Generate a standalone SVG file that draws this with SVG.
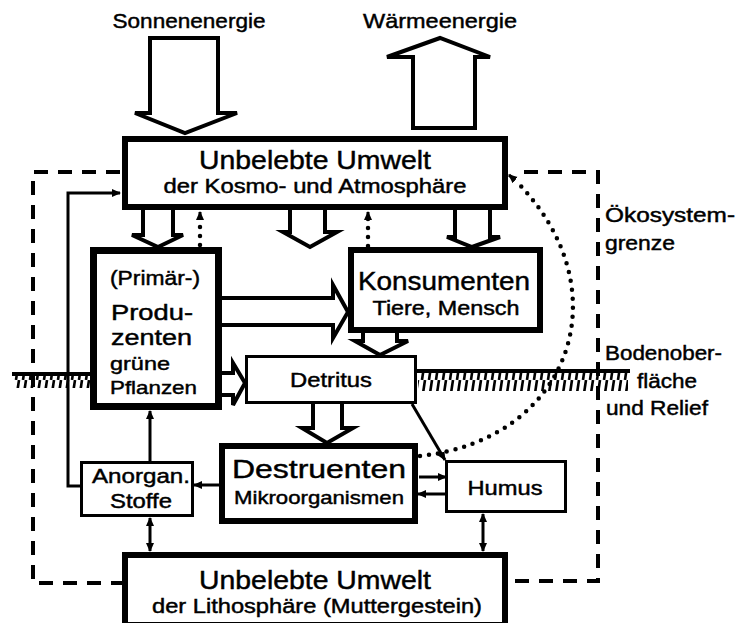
<svg xmlns="http://www.w3.org/2000/svg" width="743" height="623" viewBox="0 0 743 623">
<style>
text{font-family:"Liberation Sans",Arial,sans-serif;fill:#000;stroke:#000;stroke-width:0.45}
.c{text-anchor:middle}
.thick{fill:#fff;stroke:#000;stroke-width:6}
.thin{fill:#fff;stroke:#000;stroke-width:3}
.hollow{fill:#fff;stroke:#000;stroke-width:4;stroke-linejoin:miter}
.con{fill:none;stroke:#000;stroke-width:3}
.dot{fill:none;stroke:#000;stroke-width:4.5;stroke-linecap:round;stroke-dasharray:0 9}
.dash{fill:none;stroke:#000;stroke-width:4;stroke-dasharray:14 10}
.ground{fill:none;stroke:#000;stroke-width:4}
</style>
<defs>
<marker id="ah" markerUnits="userSpaceOnUse" markerWidth="10" markerHeight="10" refX="8" refY="5" orient="auto-start-reverse" viewBox="0 0 10 10">
<path d="M0,1 L9,5 L0,9 z" fill="#000"/>
</marker>
<pattern id="hp" patternUnits="userSpaceOnUse" width="7" height="20">
<line x1="5" y1="0" x2="2" y2="20" stroke="#000" stroke-width="2.6"/>
</pattern>
</defs>

<!-- ground surface -->
<g id="ground">
<line class="ground" x1="12" y1="374" x2="92" y2="374"/>
<rect x="14" y="375" width="76" height="13" fill="url(#hp)"/>
<line class="ground" x1="416" y1="371" x2="630" y2="371"/>
<rect x="418" y="372" width="210" height="19" fill="url(#hp)"/>
</g>

<!-- ecosystem boundary -->
<g id="boundary">
<path class="dash" d="M120,172 H33 V583 H122"/>
<path class="dash" d="M524,172 H598 V581 H508"/>
</g>

<!-- energy arrows -->
<g id="sonne">
<polygon class="hollow" points="150,38 218,38 218,113 237,113 185,133 135,113 150,113"/>
<text x="189" y="28" text-anchor="middle" textLength="153" lengthAdjust="spacingAndGlyphs" style="font-size:21px">Sonnenenergie</text>
</g>
<g id="waerme">
<polygon class="hollow" points="413,128 413,57 387,57 440,38 490,57 475,57 475,128"/>
<text x="440" y="28" text-anchor="middle" textLength="154" lengthAdjust="spacingAndGlyphs" style="font-size:21px">Wärmeenergie</text>
</g>

<!-- connectors -->
<g id="connectors">
<polyline class="hollow" points="143,210 143,235 132,235 158,247 183,235 173,235 173,210"/>
<polyline class="hollow" points="290,210 290,232 283,232 310,247 337,232 325,232 325,210"/>
<polyline class="hollow" points="455,210 455,237 447,237 472,247 500,237 490,237 490,210"/>
<polyline class="hollow" points="363,333 363,341 355,341 380,355 408,341 397,341 397,333"/>
<polyline class="hollow" points="313,403 313,428 302,428 327,443 353,428 342,428 342,403"/>
<polyline class="hollow" points="222,298 333,298 333,285 348,312 333,338 333,325 222,325"/>
<polyline class="hollow" points="222,373 233,373 233,363 245,383 233,405 233,395 222,395"/>
<path class="con" d="M81,486 H68 V193 H120" marker-end="url(#ah)"/>
<path class="con" d="M150,462 V411" marker-end="url(#ah)"/>
<path class="con" d="M219,485 H194" marker-end="url(#ah)"/>
<path class="con" d="M419,477 H446" marker-end="url(#ah)"/>
<path class="con" d="M446,494 H418" marker-end="url(#ah)"/>
<path class="con" d="M412,404 L445,460" marker-end="url(#ah)"/>
<path class="con" d="M150,518 V551" marker-start="url(#ah)" marker-end="url(#ah)"/>
<path class="con" d="M483,514 V551" marker-start="url(#ah)" marker-end="url(#ah)"/>
<path class="dot" d="M200,245 V218"/>
<path class="con" d="M200,220 V212" marker-end="url(#ah)"/>
<path class="dot" d="M368,246 V218"/>
<path class="con" d="M368,220 V212" marker-end="url(#ah)"/>
<path class="dot" d="M420,456 C570,440 625,290 515,180"/>
<path class="con" d="M515,180 L509,175" marker-end="url(#ah)"/>
</g>

<!-- nodes -->
<g id="kosmo">
<rect class="thick" x="125" y="139" width="380" height="68"/>
<text class="c" x="315" y="169" textLength="232" lengthAdjust="spacingAndGlyphs" style="font-size:26px">Unbelebte Umwelt</text>
<text class="c" x="315" y="193" textLength="303" lengthAdjust="spacingAndGlyphs" style="font-size:20px">der Kosmo- und Atmosphäre</text>
</g>
<g id="produzenten">
<rect x="93.5" y="250.5" width="125" height="156" fill="#fff" stroke="#000" stroke-width="7"/>
<text x="110" y="285" textLength="90" lengthAdjust="spacingAndGlyphs" style="font-size:20px">(Primär-)</text>
<text x="111" y="320" textLength="82" lengthAdjust="spacingAndGlyphs" style="font-size:22px">Produ-</text>
<text x="111" y="345" textLength="81" lengthAdjust="spacingAndGlyphs" style="font-size:22px">zenten</text>
<text x="110" y="370" textLength="60" lengthAdjust="spacingAndGlyphs" style="font-size:19px">grüne</text>
<text x="110" y="394" textLength="87" lengthAdjust="spacingAndGlyphs" style="font-size:19px">Pflanzen</text>
</g>
<g id="konsumenten">
<rect class="thick" x="351" y="250" width="189" height="80"/>
<text class="c" x="444" y="290" textLength="172" lengthAdjust="spacingAndGlyphs" style="font-size:26px">Konsumenten</text>
<text class="c" x="446" y="315" textLength="147" lengthAdjust="spacingAndGlyphs" style="font-size:20px">Tiere, Mensch</text>
</g>
<g id="detritus">
<rect class="thin" x="246.5" y="356.5" width="169" height="46"/>
<text class="c" x="331" y="387" textLength="82" lengthAdjust="spacingAndGlyphs" style="font-size:20px">Detritus</text>
</g>
<g id="destruenten">
<rect class="thick" x="222" y="446" width="193" height="75"/>
<text class="c" x="319" y="478" textLength="174" lengthAdjust="spacingAndGlyphs" style="font-size:26px">Destruenten</text>
<text class="c" x="319" y="504" textLength="170" lengthAdjust="spacingAndGlyphs" style="font-size:19px">Mikroorganismen</text>
</g>
<g id="humus">
<rect class="thin" x="446.5" y="461.5" width="119" height="50"/>
<text class="c" x="505" y="495" textLength="75" lengthAdjust="spacingAndGlyphs" style="font-size:20px">Humus</text>
</g>
<g id="anorgan">
<rect class="thin" x="81.5" y="462.5" width="111" height="53"/>
<text class="c" x="141" y="483" textLength="98" lengthAdjust="spacingAndGlyphs" style="font-size:20px">Anorgan.</text>
<text class="c" x="141" y="508" textLength="62" lengthAdjust="spacingAndGlyphs" style="font-size:20px">Stoffe</text>
</g>
<g id="litho">
<rect class="thick" x="125" y="555" width="380" height="70"/>
<text class="c" x="315" y="589" textLength="232" lengthAdjust="spacingAndGlyphs" style="font-size:26px">Unbelebte Umwelt</text>
<text class="c" x="317" y="613" textLength="330" lengthAdjust="spacingAndGlyphs" style="font-size:20px">der Lithosphäre (Muttergestein)</text>
</g>

<!-- side labels -->
<g id="labels">
<text x="605" y="222" textLength="130" lengthAdjust="spacingAndGlyphs" style="font-size:20px">Ökosystem-</text>
<text x="605" y="250" textLength="70" lengthAdjust="spacingAndGlyphs" style="font-size:20px">grenze</text>
<text x="605" y="360" textLength="117" lengthAdjust="spacingAndGlyphs" style="font-size:20px">Bodenober-</text>
<text x="637" y="388" textLength="60" lengthAdjust="spacingAndGlyphs" style="font-size:20px">fläche</text>
<text x="606" y="415" textLength="102" lengthAdjust="spacingAndGlyphs" style="font-size:20px">und Relief</text>
</g>
</svg>
